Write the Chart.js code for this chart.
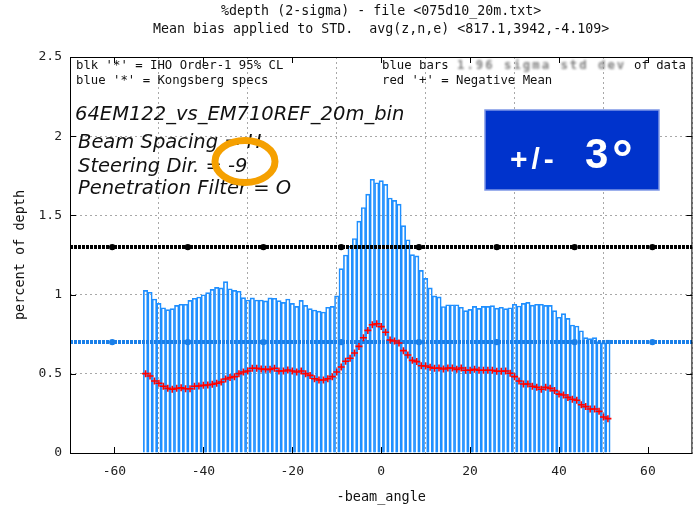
<!DOCTYPE html>
<html>
<head>
<meta charset="utf-8">
<script src="https://cdn.jsdelivr.net/npm/chart.js@4.4.0/dist/chart.umd.min.js"></script>
<style>
  body { margin: 0; background: #fff; }
  #chart { display: block; }
</style>
</head>
<body>
<canvas id="chart" width="698" height="508"></canvas>
<script>
// beam angle bins (deg)
var angles = [
  -53, -52, -51, -50, -49, -48, -47, -46, -45, -44, -43, -42, -41, -40, -39, -38, -37, -36,
  -35, -34, -33, -32, -31, -30, -29, -28, -27, -26, -25, -24, -23, -22, -21, -20, -19, -18,
  -17, -16, -15, -14, -13, -12, -11, -10, -9, -8, -7, -6, -5, -4, -3, -2, -1, 0,
  1, 2, 3, 4, 5, 6, 7, 8, 9, 10, 11, 12, 13, 14, 15, 16, 17, 18,
  19, 20, 21, 22, 23, 24, 25, 26, 27, 28, 29, 30, 31, 32, 33, 34, 35, 36,
  37, 38, 39, 40, 41, 42, 43, 44, 45, 46, 47, 48, 49, 50, 51
];

// blue bars: 1.96 sigma std dev (% of depth)
var stdBars = [
  1.027, 1.015, 0.972, 0.945, 0.917, 0.905, 0.911, 0.932, 0.939, 0.939, 0.964, 0.977, 0.985, 0.999, 1.012, 1.033, 1.046, 1.042,
  1.082, 1.037, 1.027, 1.021, 0.981, 0.966, 0.979, 0.966, 0.966, 0.960, 0.979, 0.977, 0.962, 0.951, 0.972, 0.945, 0.926, 0.964,
  0.932, 0.911, 0.903, 0.896, 0.890, 0.920, 0.926, 0.993, 1.164, 1.250, 1.305, 1.354, 1.464, 1.550, 1.634, 1.728, 1.706, 1.720,
  1.696, 1.610, 1.595, 1.571, 1.435, 1.346, 1.252, 1.244, 1.153, 1.102, 1.042, 0.992, 0.986, 0.925, 0.936, 0.936, 0.936, 0.920,
  0.899, 0.907, 0.926, 0.913, 0.926, 0.926, 0.930, 0.915, 0.920, 0.911, 0.917, 0.939, 0.928, 0.945, 0.951, 0.934, 0.939, 0.939,
  0.932, 0.932, 0.899, 0.857, 0.880, 0.850, 0.808, 0.802, 0.772, 0.728, 0.722, 0.728, 0.703, 0.695, 0.713
];

// red '+': negative mean (% of depth)
var negMean = [
  0.501, 0.486, 0.455, 0.440, 0.421, 0.408, 0.402, 0.408, 0.412, 0.406, 0.406, 0.421, 0.423, 0.427, 0.429, 0.434, 0.440, 0.448,
  0.467, 0.476, 0.482, 0.501, 0.511, 0.518, 0.535, 0.535, 0.530, 0.528, 0.528, 0.535, 0.518, 0.518, 0.524, 0.518, 0.511, 0.518,
  0.501, 0.490, 0.469, 0.461, 0.461, 0.469, 0.482, 0.511, 0.543, 0.579, 0.598, 0.631, 0.673, 0.728, 0.774, 0.810, 0.816, 0.798,
  0.762, 0.713, 0.707, 0.694, 0.646, 0.619, 0.585, 0.577, 0.551, 0.549, 0.541, 0.535, 0.537, 0.530, 0.537, 0.537, 0.528, 0.537,
  0.522, 0.522, 0.528, 0.522, 0.522, 0.522, 0.522, 0.516, 0.516, 0.518, 0.503, 0.482, 0.455, 0.436, 0.436, 0.421, 0.415, 0.402,
  0.415, 0.408, 0.394, 0.372, 0.366, 0.351, 0.339, 0.333, 0.305, 0.293, 0.278, 0.278, 0.263, 0.227, 0.217
];

// spec lines (drawn full width, with marker dots)
var specX = [-70, -60.5, -43.5, -26.5, -9, 8.5, 26, 43.5, 61, 70];
var ihoLevel = 1.3;
var kongsbergLevel = 0.7;

var xTicks = [-60, -40, -20, 0, 20, 40, 60];
var yTicks = [0, 0.5, 1, 1.5, 2, 2.5];

var barData = angles.map(function(a, i) { return { x: a, y: stdBars[i] }; });
var meanData = angles.map(function(a, i) { return { x: a, y: negMean[i] }; });
var ihoData = specX.map(function(x) { return { x: x, y: ihoLevel }; });
var kbData = specX.map(function(x) { return { x: x, y: kongsbergLevel }; });

function dotRadius(ctx) {
  return (ctx.dataIndex === 0 || ctx.dataIndex === specX.length - 1) ? 0 : 3.2;
}

var MONO = '"DejaVu Sans Mono", "Liberation Mono", monospace';

var overlay = {
  id: 'overlay',
  beforeDraw: function(chart) {
    var c = chart.ctx;
    c.save();
    c.fillStyle = '#fff';
    c.fillRect(0, 0, chart.width, chart.height);
    c.restore();
  },
  afterDraw: function(chart) {
    var c = chart.ctx;
    var a = chart.chartArea;
    var xs = chart.scales.x, ys = chart.scales.y;
    c.save();

    // frame + inward ticks
    c.strokeStyle = '#000';
    c.lineWidth = 1;
    c.strokeRect(a.left + 0.5, a.top + 0.5, a.right - a.left - 1, a.bottom - a.top);
    c.beginPath();
    yTicks.forEach(function(v) {
      var y = Math.round(ys.getPixelForValue(v)) + 0.5;
      c.moveTo(a.left, y); c.lineTo(a.left + 6, y);
      c.moveTo(a.right - 6, y); c.lineTo(a.right, y);
    });
    xTicks.forEach(function(v) {
      var x = Math.round(xs.getPixelForValue(v)) + 0.5;
      c.moveTo(x, a.bottom); c.lineTo(x, a.bottom - 6);
      c.moveTo(x, a.top); c.lineTo(x, a.top + 6);
    });
    c.stroke();

    // titles
    c.fillStyle = '#111';
    c.textAlign = 'center';
    c.textBaseline = 'middle';
    c.font = '13.3px ' + MONO;
    var cx = (a.left + a.right) / 2;
    c.fillText('%depth (2-sigma) - file <075d10_20m.txt>', cx, 12);
    c.fillText('Mean bias applied to STD.  avg(z,n,e) <817.1,3942,-4.109>', cx, 30);

    // axis titles
    c.font = '13.5px ' + MONO;
    c.fillText('-beam_angle', cx, 497);
    c.save();
    c.translate(20, (a.top + a.bottom) / 2);
    c.rotate(-Math.PI / 2);
    c.fillText('percent of depth', 0, 0);
    c.restore();

    // key text
    c.textAlign = 'left';
    c.font = '12.3px ' + MONO;
    c.fillText("blk '*' = IHO Order-1 95% CL", 76, 66);
    c.fillText("blue '*' = Kongsberg specs", 76, 81);
    c.fillText("blue bars", 382, 66);
    c.fillText("red '+' = Negative Mean", 382, 81);
    c.fillText("of data", 634, 66);
    c.save();
    c.filter = 'blur(0.9px)';
    c.fillStyle = '#808080';
    c.font = 'bold 12.3px ' + MONO;
    c.letterSpacing = '2px';
    c.fillText("1.96 sigma std dev", 457, 66);
    c.restore();

    // annotation text
    c.fillStyle = '#111';
    c.textBaseline = 'alphabetic';
    c.font = 'italic 19.5px "DejaVu Sans", Verdana, sans-serif';
    c.fillText('64EM122_vs_EM710REF_20m_bin', 75, 120);
    c.fillText('Beam Spacing = H', 78, 148);
    c.fillText('Steering Dir. = -9', 78, 172);
    c.fillText('Penetration Filter = O', 78, 194);

    // orange ring
    c.beginPath();
    c.ellipse(245, 161.5, 30, 21, 0, 0, Math.PI * 2);
    c.strokeStyle = '#f5a000';
    c.lineWidth = 7;
    c.stroke();

    // blue box
    c.fillStyle = '#0033cc';
    c.fillRect(485, 110, 174, 80);
    c.strokeStyle = '#7e97e6';
    c.lineWidth = 1.5;
    c.strokeRect(485, 110, 174, 80);
    c.fillStyle = '#fff';
    c.font = 'bold 30px "Liberation Sans", Arial, sans-serif';
    c.letterSpacing = '4px';
    c.fillText('+/-', 510, 169);
    c.letterSpacing = '0px';
    c.font = 'bold 42px "Liberation Sans", Arial, sans-serif';
    c.fillText('3', 585, 168);
    c.font = 'bold 52px "Liberation Sans", Arial, sans-serif';
    c.fillText('\u00b0', 612, 176);

    c.restore();
  }
};

var chart = new Chart(document.getElementById('chart'), {
  type: 'bar',
  data: {
    datasets: [
      {
        type: 'scatter',
        label: 'Negative Mean',
        data: meanData,
        pointStyle: 'cross',
        pointRadius: 3.5,
        borderColor: '#ff0000',
        borderWidth: 1.6,
        order: 1
      },
      {
        type: 'line',
        label: 'IHO Order-1 95% CL',
        data: ihoData,
        borderColor: '#000',
        borderWidth: 4,
        borderDash: [3, 1],
        pointRadius: dotRadius,
        pointBackgroundColor: '#000',
        pointBorderWidth: 0,
        order: 2
      },
      {
        type: 'line',
        label: 'Kongsberg specs',
        data: kbData,
        borderColor: '#1a7fe8',
        borderWidth: 4,
        borderDash: [3, 1],
        pointRadius: dotRadius,
        pointBackgroundColor: '#1a7fe8',
        pointBorderWidth: 0,
        order: 3
      },
      {
        label: '1.96 sigma std dev',
        data: barData,
        backgroundColor: 'rgba(255,255,255,0)',
        borderColor: '#1f8fff',
        borderWidth: 1,
        barPercentage: 1,
        categoryPercentage: 1,
        order: 4
      }
    ]
  },
  options: {
    responsive: false,
    animation: false,
    layout: { padding: { top: 57, right: 1, left: 0, bottom: 0 } },
    plugins: {
      legend: { display: false },
      tooltip: { enabled: false },
      title: { display: false }
    },
    scales: {
      x: {
        type: 'linear',
        min: -70,
        max: 70,
        offset: false,
        afterBuildTicks: function(scale) {
          scale.ticks = xTicks.map(function(v) { return { value: v }; });
        },
        afterFit: function(scale) { scale.height = 55; },
        grid: { color: '#a8a8a8', drawTicks: false, lineWidth: 1 },
        border: { display: false, dash: [2, 3] },
        ticks: {
          padding: 11, color: '#222', font: { family: MONO, size: 13 }, maxRotation: 0,
          callback: function(v) { return String(v); }
        }
      },
      y: {
        min: 0,
        max: 2.5,
        afterBuildTicks: function(scale) {
          scale.ticks = yTicks.map(function(v) { return { value: v }; });
        },
        afterFit: function(scale) { scale.width = 70; },
        grid: { color: '#a8a8a8', drawTicks: false, lineWidth: 1 },
        border: { display: false, dash: [2, 3] },
        ticks: {
          padding: 8, color: '#222', font: { family: MONO, size: 13 },
          callback: function(v) { return String(v); }
        }
      }
    }
  },
  plugins: [overlay]
});
</script>
</body>
</html>
